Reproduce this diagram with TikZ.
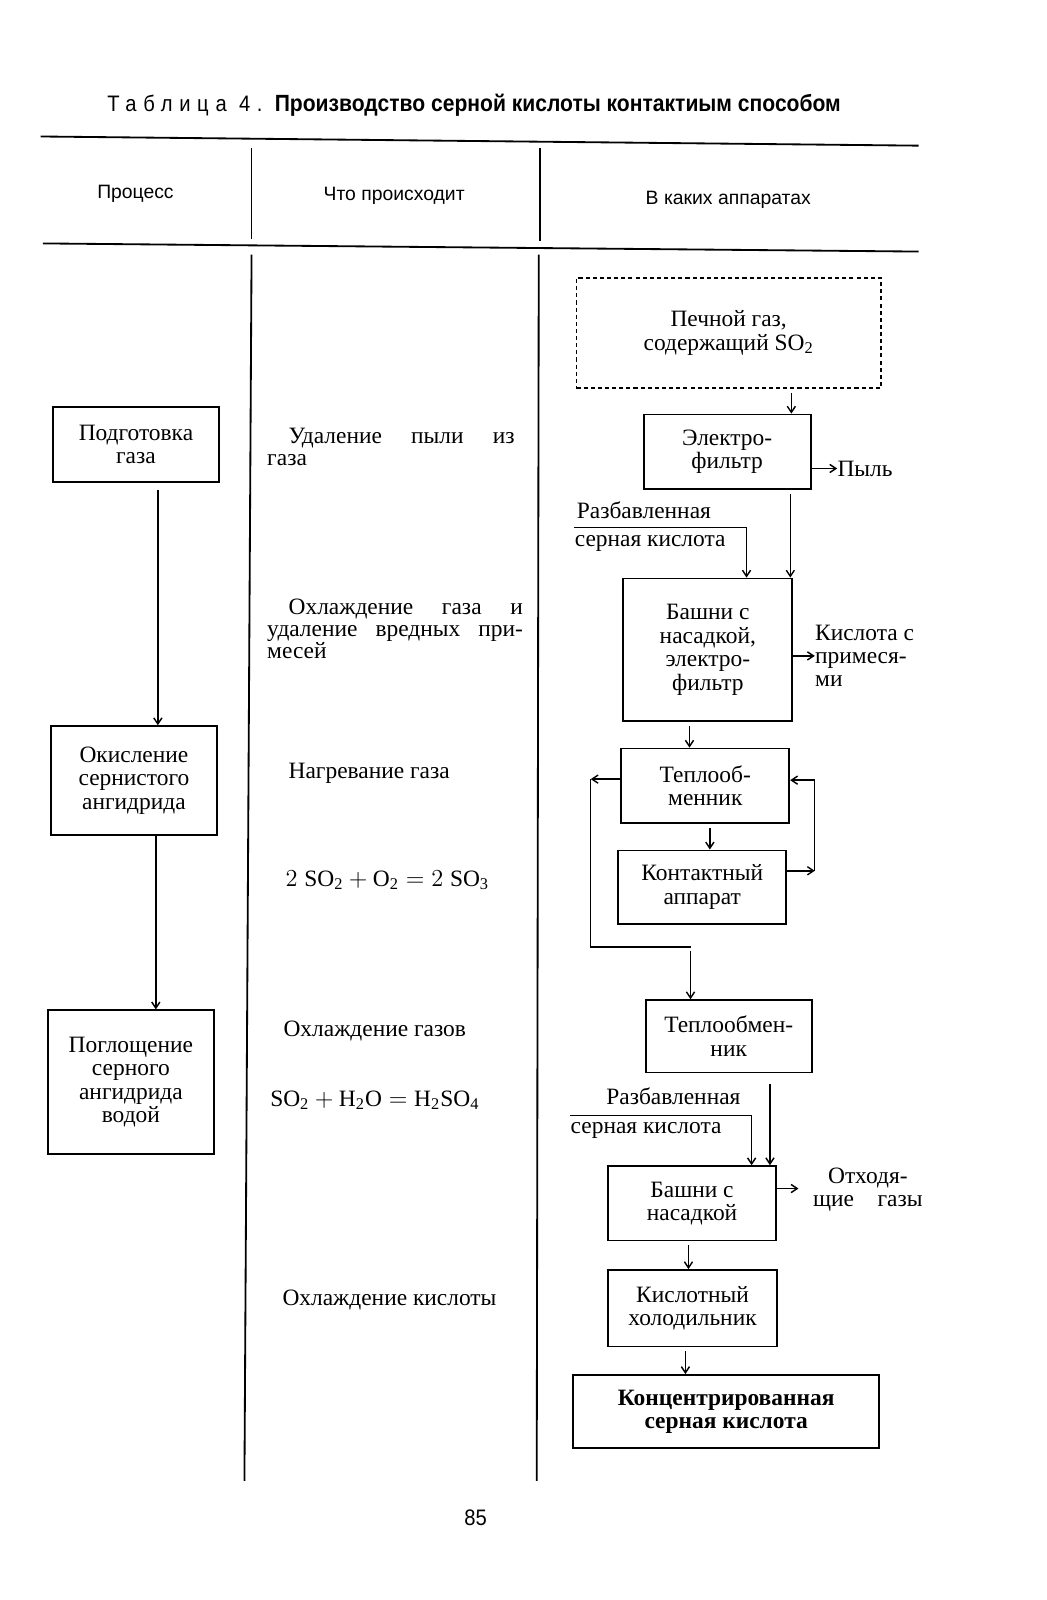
\documentclass[tikz,border=0pt]{standalone}
\usepackage{fontspec}
\setmainfont{Liberation Serif}
\setmathrm{Liberation Serif}
\newfontfamily\condsans[FakeStretch=0.9]{Liberation Sans}
\newfontfamily\headsans{Liberation Sans}
\usetikzlibrary{arrows.meta}

\tikzset{
	apbox/.style={draw, line width=0.9pt, align=center, font=\fontsize{11.5}{11.5}\selectfont},
	gasbox/.style={draw, line width=0.7pt, dash pattern=on 2pt off 1.5pt, align=center, font=\fontsize{11.5}{11.5}\selectfont},
	arr/.style={line width=0.7pt, -{Straight Barb[length=3pt,width=4pt]}},
	rule/.style={line width=0.9pt},
	head/.style={font=\headsans\fontsize{9.5}{11}\selectfont},
	txt/.style={anchor=base west, font=\fontsize{11.5}{10.8}\selectfont},
	blk/.style={anchor=north west, align=left, font=\fontsize{11.5}{10.8}\selectfont},
	side/.style={align=left, font=\fontsize{11.5}{11.2}\selectfont}
}

\begin{document}
\begin{tikzpicture}[x=0.5pt,y=-0.5pt]
	\tikzstyle{every node}+=[inner sep=0pt]
	\useasboundingbox (0,0) rectangle (1028,1571);
	% title and table frame
	\node[anchor=west] (title) at (105,103) {{\condsans\fontsize{11}{12}\selectfont\addfontfeature{LetterSpace=30}Таблица 4.}\hspace{6pt}{\condsans\fontsize{11.5}{12}\selectfont\bfseries Производство серной кислоты контактиым способом}};
	\draw[rule] (40,134) -- (902,143);
	\draw[rule] (42,239) -- (902,247);
	\draw[rule] (247,145) -- (247,235);
	\draw[rule] (530,145) -- (530,237);
	\draw[rule] (247,250) -- (240,1454);
	\draw[rule] (529,250) -- (527,1454);
	\node[head] (hproc) at (133,190) {Процесс};
	\node[head] (hwhat) at (387,192) {Что происходит};
	\node[head] (happ) at (715,196) {В каких аппаратах};

	% process column
	\node[apbox, minimum width=81.5pt, minimum height=36.5pt] (prep) at (133.5,436.5) {Подготовка\\газа};
	\node[apbox, minimum width=81.5pt, minimum height=53.5pt] (oxid) at (131.5,766.5) {Окисление\\сернистого\\ангидрида};
	\node[apbox, minimum width=81.5pt, minimum height=70.5pt] (absorb) at (128.5,1062.5) {Поглощение\\серного\\ангидрида\\водой};
	\coordinate (p1) at (155,0);
	\coordinate (p2) at (153,0);
	\draw[arr, shorten <=3.5pt] (prep.south -| p1) -- (oxid.north -| p1);
	\draw[arr] (oxid.south -| p2) -- (absorb.north -| p2);

	% what happens
	\node[blk, text width=121.5pt] (dust1) at (262,420) {\hspace*{10.5pt}Удаление\hfill пыли\hfill из\\газа};
	\node[blk, text width=125.5pt] (cool1) at (262,588) {\hspace*{10.5pt}Охлаждение\hfill газа\hfill и\\удаление\hfill вредных\hfill при-\hspace*{6.5pt}\\месей};
	\node[txt] (heat) at (283,764) {Нагревание газа};
	\node[txt] (eq1) at (280,870) {$2\;\mathrm{SO_2}+\mathrm{O_2}=2\;\mathrm{SO_3}$};
	\node[txt] (cool2) at (278,1018) {Охлаждение газов};
	\node[txt] (eq2) at (265,1086) {$\mathrm{SO_2}+\mathrm{H_2O}=\mathrm{H_2SO_4}$};
	\node[txt] (cool3) at (277,1282) {Охлаждение кислоты};

	% apparatus
	\node[gasbox, minimum width=149.5pt, minimum height=54pt] (ovengas) at (715.5,327) {Печной газ,\\содержащий SO\textsubscript{2}};
	\node[apbox, minimum width=82pt, minimum height=36.5pt] (efilter) at (714,443.5) {Электро-\\фильтр};
	\node[side, anchor=west] (dust) at (822,460) {Пыль};
	\node[side, anchor=base west] (dil1a) at (566,509) {Разбавленная};
	\node[side, anchor=base west] (dil1b) at (564,537) {серная кислота};
	\node[apbox, minimum width=83pt, minimum height=70pt] (tower1) at (695,638) {Башни с\\насадкой,\\электро-\\фильтр};
	\node[side, anchor=west] (impur) at (800,644) {Кислота с\\примеся-\\ми};
	\node[apbox, minimum width=82.5pt, minimum height=36.5pt] (heatex1) at (692.5,771.5) {Теплооб-\\менник};
	\node[apbox, minimum width=82.5pt, minimum height=36pt] (contact) at (689.5,871) {Контактный\\аппарат};
	\node[apbox, minimum width=81.5pt, minimum height=35.5pt] (heatex2) at (715.5,1017.5) {Теплообмен-\\ник};
	\node[side, anchor=base west] (dil2a) at (595,1084) {Разбавленная};
	\node[side, anchor=base west] (dil2b) at (560,1113) {серная кислота};
	\node[apbox, minimum width=82.5pt, minimum height=36.5pt] (tower2) at (679.5,1181.5) {Башни с\\насадкой};
	\node[side, anchor=west, align=center] (waste) at (798,1168) {Отходя-\\щие\quad газы};
	\node[apbox, minimum width=83pt, minimum height=37.5pt] (cooler) at (680,1284.5) {Кислотный\\холодильник};
	\node[apbox, minimum width=150pt, minimum height=36pt, font=\fontsize{11.5}{11.5}\selectfont\bfseries] (conc) at (713,1386) {Концентрированная\\серная кислота};

	\coordinate (a1) at (777,0);
	\coordinate (a2) at (776,0);
	\coordinate (a3) at (677,0);
	\coordinate (a4) at (697,0);
	\coordinate (a5) at (756,0);
	\coordinate (a6) at (676,0);
	\coordinate (a7) at (673,0);
	\draw[arr, shorten <=2pt] (ovengas.south -| a1) -- (efilter.north -| a1);
	\draw[arr] (efilter.east |- dust.west) -- (dust.west);
	\draw[arr, shorten <=2pt] (efilter.south -| a2) -- (tower1.north -| a2);
	\coordinate (j1) at (733,518);
	\draw[line width=0.7pt] (dil1b.west |- j1) -- (j1);
	\draw[arr] (j1) -- (tower1.north -| j1);
	\draw[arr, shorten <=2pt] (tower1.south -| a3) -- (heatex1.north -| a3);
	\draw[arr] (tower1.east |- impur.west) -- (impur.west);
	\draw[arr, shorten <=2pt] (heatex1.south -| a4) -- (contact.north -| a4);
	% gas loop
	\coordinate (r1) at (800,855);
	\coordinate (r2) at (800,766);
	\draw[arr] (contact.east |- r1) -- (r1);
	\draw[arr] (r1) -- (r2) -- (heatex1.east |- r2);
	\coordinate (l1) at (580,765);
	\coordinate (l2) at (580,930);
	\coordinate (l3) at (678,930);
	\draw[arr] (heatex1.west |- l1) -- (l1);
	\draw[line width=0.7pt] (l1) -- (l2) -- (l3);
	\draw[arr, shorten <=2pt] (l3) -- (heatex2.north -| l3);
	\coordinate (j2) at (738,1095);
	\draw[line width=0.7pt] (dil2b.west |- j2) -- (j2);
	\draw[arr] (j2) -- (tower2.north -| j2);
	\draw[arr, shorten <=5pt] (heatex2.south -| a5) -- (tower2.north -| a5);
	\coordinate (g1) at (784,1167);
	\draw[arr] (tower2.east |- g1) -- (g1);
	\draw[arr, shorten <=2pt] (tower2.south -| a6) -- (cooler.north -| a6);
	\draw[arr, shorten <=2pt] (cooler.south -| a7) -- (conc.north -| a7);

	\node[font=\condsans\fontsize{11}{12}\selectfont] (page) at (467,1490) {85};
\end{tikzpicture}
\end{document}
